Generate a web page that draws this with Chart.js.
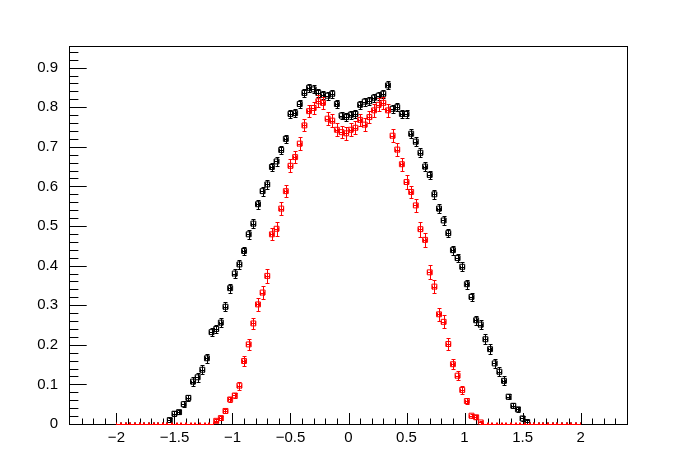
<!DOCTYPE html>
<html>
<head>
<meta charset="utf-8">
<script src="https://cdn.jsdelivr.net/npm/chart.js@4.4.0/dist/chart.umd.min.js"></script>
<style>
  html, body { margin: 0; padding: 0; background: #fff; }
  #grafico { display: block; background: #fff; }
</style>
</head>
<body>
<canvas id="grafico" width="696" height="472"></canvas>
<script>
// Binning of the two histograms
const N_BINS = 100;
const X_LO = -2;
const X_HI = 2;
const BIN_W = (X_HI - X_LO) / N_BINS;

// Black histogram: bin contents and errors
const blackValues = [
  0, 0, 0, 0, 0, 0, 0, 0, 0, 0,
  0, 0.010, 0.026, 0.030, 0.050, 0.066, 0.107, 0.118, 0.137, 0.166,
  0.232, 0.240, 0.256, 0.296, 0.343, 0.380, 0.403, 0.437, 0.479, 0.506,
  0.555, 0.588, 0.605, 0.649, 0.663, 0.692, 0.720, 0.783, 0.785, 0.808,
  0.836, 0.849, 0.845, 0.836, 0.831, 0.829, 0.834, 0.808, 0.779, 0.775,
  0.781, 0.783, 0.806, 0.814, 0.815, 0.824, 0.829, 0.834, 0.855, 0.796,
  0.800, 0.783, 0.783, 0.733, 0.713, 0.685, 0.650, 0.629, 0.580, 0.544,
  0.514, 0.482, 0.439, 0.419, 0.397, 0.353, 0.321, 0.262, 0.251, 0.214,
  0.189, 0.153, 0.132, 0.109, 0.069, 0.046, 0.037, 0.014, 0.005, 0,
  0, 0, 0, 0, 0, 0, 0, 0, 0, 0
];
const blackErrors = [
  0, 0, 0, 0, 0, 0, 0, 0, 0, 0,
  0, 0.004, 0.006, 0.006, 0.007, 0.007, 0.011, 0.011, 0.011, 0.011,
  0.011, 0.011, 0.011, 0.011, 0.011, 0.011, 0.011, 0.011, 0.011, 0.011,
  0.011, 0.011, 0.011, 0.011, 0.011, 0.011, 0.011, 0.010, 0.010, 0.010,
  0.010, 0.010, 0.010, 0.010, 0.010, 0.010, 0.010, 0.010, 0.010, 0.010,
  0.010, 0.010, 0.010, 0.010, 0.010, 0.010, 0.010, 0.010, 0.010, 0.010,
  0.010, 0.010, 0.010, 0.011, 0.011, 0.011, 0.011, 0.011, 0.011, 0.011,
  0.011, 0.011, 0.011, 0.011, 0.011, 0.011, 0.011, 0.011, 0.011, 0.013,
  0.013, 0.011, 0.011, 0.011, 0.006, 0.006, 0.006, 0.007, 0.004, 0,
  0, 0, 0, 0, 0, 0, 0, 0, 0, 0
];

// Red histogram: bin contents and errors
const redValues = [
  0, 0, 0, 0, 0, 0, 0, 0, 0, 0,
  0, 0, 0, 0, 0, 0, 0, 0, 0, 0,
  0, 0.008, 0.015, 0.033, 0.062, 0.072, 0.097, 0.159, 0.201, 0.254,
  0.302, 0.332, 0.374, 0.479, 0.493, 0.544, 0.588, 0.652, 0.674, 0.708,
  0.754, 0.790, 0.798, 0.815, 0.811, 0.771, 0.766, 0.743, 0.737, 0.734,
  0.743, 0.748, 0.768, 0.756, 0.775, 0.792, 0.806, 0.811, 0.792, 0.728,
  0.693, 0.656, 0.611, 0.586, 0.552, 0.492, 0.465, 0.383, 0.347, 0.277,
  0.258, 0.202, 0.151, 0.122, 0.086, 0.058, 0.021, 0.017, 0.004, 0,
  0, 0, 0, 0, 0, 0, 0, 0, 0, 0,
  0, 0, 0, 0, 0, 0, 0, 0, 0, 0
];
const redErrors = [
  0, 0, 0, 0, 0, 0, 0, 0, 0, 0,
  0, 0, 0, 0, 0, 0, 0, 0, 0, 0,
  0, 0.004, 0.004, 0.005, 0.007, 0.006, 0.010, 0.013, 0.013, 0.014,
  0.017, 0.016, 0.017, 0.015, 0.017, 0.016, 0.016, 0.016, 0.016, 0.016,
  0.015, 0.015, 0.015, 0.015, 0.015, 0.016, 0.016, 0.016, 0.016, 0.016,
  0.016, 0.016, 0.016, 0.016, 0.016, 0.016, 0.016, 0.016, 0.016, 0.016,
  0.016, 0.016, 0.017, 0.016, 0.017, 0.019, 0.018, 0.018, 0.017, 0.017,
  0.016, 0.014, 0.012, 0.012, 0.011, 0.008, 0.005, 0.005, 0.003, 0,
  0, 0, 0, 0, 0, 0, 0, 0, 0, 0,
  0, 0, 0, 0, 0, 0, 0, 0, 0, 0
];

// Axis labels
const X_TICKS = [-2, -1.5, -1, -0.5, 0, 0.5, 1, 1.5, 2];
const Y_TICKS = [0, 0.1, 0.2, 0.3, 0.4, 0.5, 0.6, 0.7, 0.8, 0.9];

// Bin centres
const binCentres = Array.from({ length: N_BINS }, (_, i) => X_LO + (i + 0.5) * BIN_W);

function toPoints(values, errors) {
  return values.map((v, i) => ({ x: binCentres[i], y: v, err: errors[i] }));
}

Chart.defaults.font.family = '"Liberation Sans", Arial, sans-serif';
Chart.defaults.font.size = 15;
Chart.defaults.color = '#000';

// Frame with ROOT-style inward ticks
const framePlugin = {
  id: 'frame',
  beforeDatasetsDraw(chart) {
    const { left, right, top, bottom } = chart.chartArea;
    const c = chart.ctx;
    const xs = chart.scales.x;
    const ys = chart.scales.y;
    c.save();
    c.strokeStyle = '#000';
    c.lineWidth = 1;
    c.strokeRect(left - 0.5, top - 0.5, right - left + 1, bottom - top + 1);
    c.beginPath();
    // x ticks every 0.1, long ones every 0.5
    for (let k = -23; k <= 23; k++) {
      const px = Math.round(xs.getPixelForValue(k / 10)) + 0.5;
      const len = (k % 5 === 0 && Math.abs(k) <= 20) ? 11 : 5.5;
      c.moveTo(px, bottom);
      c.lineTo(px, bottom - len);
    }
    // y ticks every 0.02, long ones every 0.1
    for (let k = 0; k <= 47; k++) {
      const py = Math.round(ys.getPixelForValue(k * 0.02)) + 0.5;
      const len = (k % 5 === 0) ? 16.7 : 8.4;
      c.moveTo(left, py);
      c.lineTo(left + len, py);
    }
    c.stroke();
    c.restore();
  }
};

// Error bars with end caps
const errorBarPlugin = {
  id: 'errorBars',
  afterDatasetDraw(chart, args) {
    const ds = chart.data.datasets[args.index];
    const xs = chart.scales.x;
    const ys = chart.scales.y;
    const area = chart.chartArea;
    const c = chart.ctx;
    const cap = 2;
    c.save();
    c.beginPath();
    c.rect(area.left, area.top, area.right - area.left, area.bottom - area.top + 1);
    c.clip();
    c.strokeStyle = ds.borderColor;
    c.lineWidth = 1;
    c.beginPath();
    ds.data.forEach(p => {
      const x0 = Math.round(xs.getPixelForValue(p.x - BIN_W / 2)) + 0.5;
      const x1 = Math.round(xs.getPixelForValue(p.x + BIN_W / 2)) - 0.5;
      const xc = Math.round(xs.getPixelForValue(p.x)) + 0.5;
      const yc = Math.round(ys.getPixelForValue(p.y)) + 0.5;
      c.moveTo(x0, yc); c.lineTo(x1, yc);
      c.moveTo(x0, yc - cap); c.lineTo(x0, yc + cap);
      c.moveTo(x1, yc - cap); c.lineTo(x1, yc + cap);
      if (p.err > 0) {
        const yLo = Math.round(ys.getPixelForValue(p.y - p.err)) + 0.5;
        const yHi = Math.round(ys.getPixelForValue(p.y + p.err)) + 0.5;
        c.moveTo(xc, yLo); c.lineTo(xc, yHi);
        c.moveTo(xc - cap, yLo); c.lineTo(xc + cap, yLo);
        c.moveTo(xc - cap, yHi); c.lineTo(xc + cap, yHi);
      }
    });
    c.stroke();
    c.restore();
  }
};

const ctx = document.getElementById('grafico').getContext('2d');
const grafico = new Chart(ctx, {
  type: 'scatter',
  data: {
    datasets: [
      {
        label: 'black',
        data: toPoints(blackValues, blackErrors),
        borderColor: '#000000',
        backgroundColor: 'rgba(0,0,0,0)',
        borderWidth: 1,
        pointStyle: 'rect',
        pointRadius: c => (c.raw && c.raw.y > 0 ? 3.5 : 0),
        order: 2
      },
      {
        label: 'red',
        data: toPoints(redValues, redErrors),
        borderColor: '#ff0000',
        backgroundColor: 'rgba(0,0,0,0)',
        borderWidth: 1,
        pointStyle: 'rect',
        pointRadius: c => (c.raw && c.raw.y > 0 ? 3.5 : 0),
        order: 1
      }
    ]
  },
  options: {
    responsive: false,
    animation: false,
    devicePixelRatio: 1,
    layout: { padding: { top: 47, right: 69, left: 0, bottom: 0 } },
    plugins: {
      legend: { display: false },
      tooltip: { enabled: false }
    },
    scales: {
      x: {
        type: 'linear',
        min: -2.4,
        max: 2.4,
        afterFit: s => { s.height = 48; },
        afterBuildTicks: s => { s.ticks = X_TICKS.map(v => ({ value: v })); },
        grid: { display: false, drawTicks: false },
        border: { display: false },
        ticks: {
          autoSkip: false,
          maxRotation: 0,
          padding: 5,
          callback: v => (v < 0 ? '\u2212' + Math.abs(v) : String(v))
        }
      },
      y: {
        type: 'linear',
        min: 0,
        max: 0.952,
        afterFit: s => { s.width = 70; },
        afterBuildTicks: s => { s.ticks = Y_TICKS.map(v => ({ value: v })); },
        grid: { display: false, drawTicks: false },
        border: { display: false },
        ticks: {
          autoSkip: false,
          padding: 12,
          callback: v => (v === 0 ? '0' : v.toFixed(1))
        }
      }
    }
  },
  plugins: [framePlugin, errorBarPlugin]
});
</script>
</body>
</html>
